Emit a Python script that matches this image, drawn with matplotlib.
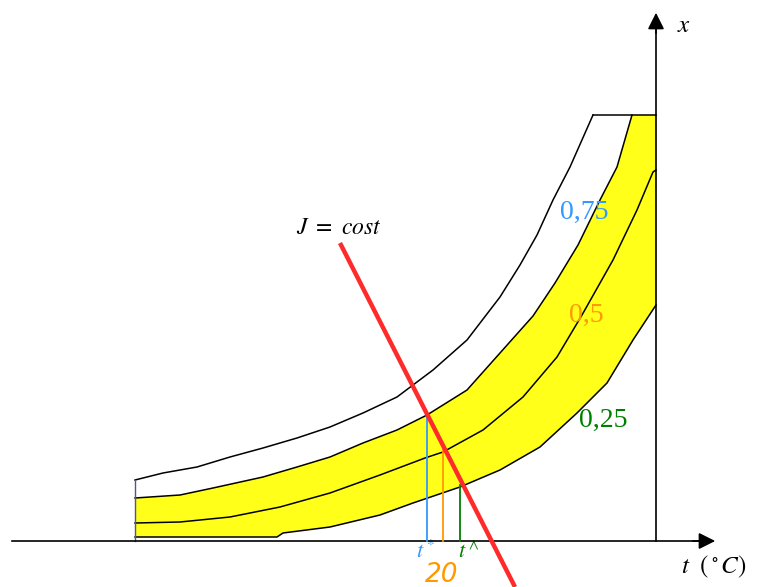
import numpy as np
import matplotlib.pyplot as plt

# curves: t (horizontal) and x (height above the t axis)
t_075 = [135, 163, 197, 230, 263, 297, 330, 363, 397, 433, 467, 500, 520, 537, 553, 570, 593]
x_075 = [61, 68, 74, 84, 93, 103, 114, 128, 144, 171, 201, 244, 276, 306, 341, 374, 426]

t_upper = [135, 180, 213, 263, 297, 330, 363, 397, 427, 467, 500, 533, 555, 578, 600, 617, 632]
x_upper = [43, 46, 53, 64, 74, 84, 98, 111, 126, 151, 188, 225, 258, 296, 341, 374, 426]

t_050 = [135, 180, 230, 280, 330, 380, 425, 443, 483, 523, 557, 582, 613, 637, 653, 656]
x_050 = [18, 19, 24, 34, 48, 66, 83, 89, 111, 144, 184, 226, 281, 331, 369, 371]

t_025 = [135, 277, 283, 330, 380, 413, 460, 500, 540, 577, 607, 633, 656]
x_025 = [4, 4, 8, 14, 26, 38, 54, 71, 94, 128, 158, 201, 236]

x_top = 426          # flat top of the band
t_right = 656        # x axis position on the t scale

# J = cost line
j_t = [340, 515]
j_x = [298, -46]

# marked temperatures and heights
t_star, t_20, t_hat = 427, 443, 460
x_star, x_20, x_hat = 126, 91, 56

labels_iso = ['0,75', '0,5', '0,25']
label_pos = [(584, 329), (586, 226), (603, 121)]
label_col = ['#3399ff', '#ff9900', '#008000']

plt.rcParams['font.family'] = ['Liberation Serif', 'DejaVu Serif']
plt.rcParams['mathtext.fontset'] = 'stix'

fig = plt.figure(figsize=(7.59, 5.87), dpi=100)
ax = fig.add_axes([0, 0, 1, 1])
ax.set_xlim(0, 759)
ax.set_ylim(-46, 541)
ax.axis('off')

# yellow band between upper curve and 0.25 curve
poly_t = list(t_upper) + [t_right, t_right] + t_025[::-1]
poly_x = list(x_upper) + [x_top, x_025[-1]] + x_025[::-1]
ax.fill(poly_t, poly_x, color='#ffff1a', lw=0, zorder=1)

for tt, xx in [(t_075, x_075), (t_upper, x_upper), (t_050, x_050), (t_025, x_025)]:
    ax.plot(tt, xx, color='black', lw=1.1, zorder=3)
ax.plot([t_075[-1], t_right], [x_top, x_top], color='black', lw=1.1, zorder=3)
ax.plot([t_075[0], t_075[0]], [0, x_075[0]], color='#555588', lw=1.0, zorder=3)

# axes with arrows
ax.plot([12, 700], [0, 0], color='black', lw=1.2, zorder=4)
ax.annotate('', xy=(718, 0), xytext=(690, 0),
            arrowprops=dict(arrowstyle='-|>', color='black', lw=1.2, mutation_scale=25))
ax.plot([t_right, t_right], [0, 515], color='black', lw=1.2, zorder=4)
ax.annotate('', xy=(t_right, 531), xytext=(t_right, 505),
            arrowprops=dict(arrowstyle='-|>', color='black', lw=1.2, mutation_scale=25))

# marker lines
ax.plot([t_star, t_star], [0, x_star], color='#3399ff', lw=1.3, zorder=4)
ax.plot([t_20, t_20], [0, x_20], color='#ff9900', lw=1.3, zorder=4)
ax.plot([t_hat, t_hat], [0, x_hat], color='#008000', lw=1.3, zorder=4)

ax.plot(j_t, j_x, color='#ff2a2a', lw=3.2, zorder=5, solid_capstyle='butt')

for s, (pt, px), c in zip(labels_iso, label_pos, label_col):
    ax.text(pt, px, s, color=c, fontsize=20, ha='center', va='center', zorder=6)

ax.text(339, 313, r'$J\ =\ cost$', fontsize=17, ha='center', va='center')
ax.text(684, 515, '$x$', fontsize=18, ha='center', va='center')
ax.text(714, -26, r'$t\ \ (^\circ C)$', fontsize=18, ha='center', va='center')
ax.text(426, -11, '$t^*$', fontsize=16, color='#3399ff', ha='center', va='center')
ax.text(442, -34, '20', fontsize=19, style='italic', family='DejaVu Sans',
        color='#ff9900', ha='center', va='center')
ax.text(469, -11, r'$t^\wedge$', fontsize=16, color='#008000', ha='center', va='center')

fig.savefig('out.png', dpi=100)
